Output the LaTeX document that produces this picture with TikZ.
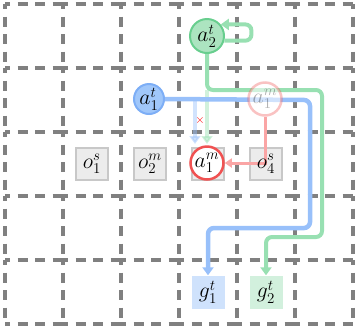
\documentclass[tikz,border=0pt]{standalone}
\usepackage{amsmath}
\usepackage{graphicx}
\usepackage{tikz}
\usetikzlibrary{arrows.meta,positioning}

\definecolor{bluefill}{RGB}{160,199,250}
\definecolor{blueedge}{RGB}{125,174,246}
\definecolor{blueline}{RGB}{152,192,250}
\definecolor{bluegoal}{RGB}{207,226,252}
\definecolor{greenfill}{RGB}{172,228,192}
\definecolor{greenedge}{RGB}{104,206,142}
\definecolor{greenline}{RGB}{152,224,178}
\definecolor{greengoal}{RGB}{210,240,221}
\definecolor{rededge}{RGB}{240,82,82}
\definecolor{redline}{RGB}{250,165,165}
\definecolor{obstfill}{RGB}{236,236,236}
\definecolor{obstedge}{RGB}{200,200,200}

\newcommand{\cellname}[1]{\scalebox{1.25}{$#1$}}

\tikzset{
  gridline/.style={ draw=gray, line width=3.5pt, dash pattern=on 10pt off 7.5pt, dash phase=5pt }
}
\tikzset{
  agentB/.style={ draw=blueedge, circle, fill=bluefill, line width=2pt, minimum size=30pt, inner sep=0pt }
}
\tikzset{
  agentG/.style={ draw=greenedge, circle, fill=greenfill, line width=2pt, minimum size=34pt, inner sep=0pt }
}
\tikzset{
  agentR/.style={ draw=rededge, circle, fill=white, line width=2.5pt, minimum size=33pt, inner sep=0pt }
}
\tikzset{
  ghostR/.style={ agentR, draw opacity=0.35, fill opacity=0.55, text opacity=0.3 }
}
\tikzset{
  obst/.style={ draw=obstedge, fill=obstfill, line width=1.5pt, minimum size=32pt, inner sep=0pt }
}
\tikzset{
  goal/.style={ minimum size=33pt, inner sep=0pt }
}
\tikzset{
  pathB/.style={ draw=blueline, line width=4.5pt, rounded corners=6pt }
}
\tikzset{
  pathG/.style={ draw=greenline, line width=4pt, rounded corners=6pt }
}

\begin{document}
\begin{tikzpicture}[x=1pt, y=-1pt, font=\LARGE,
    >={Triangle[length=8pt, width=11pt]}]
      \useasboundingbox (0,0) rectangle (355,333);

      % grid, one dashed piece per cell edge
      \foreach \x in {5,63,...,353}
        \foreach \y in {4,68,...,260}
          \draw[gridline] (\x,\y) -- ++(0,64);
      \foreach \y in {4,68,...,324}
        \foreach \x in {5,63,...,295}
          \draw[gridline] (\x,\y) -- ++(58,0);

      % obstacles and goals
      \node[obst] (o1s) at (92,164) {\cellname{o_1^s}};
      \node[obst] (o2m) at (150,164) {\cellname{o_2^m}};
      \node[obst] (o3) at (208,164) {};
      \node[obst] (o4s) at (266,164) {};
      \node[goal, fill=bluegoal] (g1t) at (208,292) {\cellname{g_1^t}};
      \node[goal, fill=greengoal] (g2t) at (266,292) {\cellname{g_2^t}};

      \coordinate (splitG) at (207,90);
      \coordinate (stopG) at (207,144);
      \coordinate (splitB) at (195,100);
      \coordinate (stopB) at (195,144);

      \node[agentG] (a2t) at (207,36) {\cellname{a_2^t}};
      \node[agentB] (a1t) at (149,99) {\cellname{a_1^t}};

      % blocked moves
      \begin{scope}[->, opacity=0.45]
        \draw[draw=greenline, line width=4pt] (splitG) -- (stopG);
        \draw[draw=blueline, line width=4.5pt] (splitB) -- (stopB);
      \end{scope}
      \node[text=red, inner sep=0pt, font=\large] (cross) at (200,120) {$\times$};

      \begin{scope}[->]
        \draw[pathG] (a2t.south) -- (splitG) -- (322,90) -- (322,237) -- (266,237) -- (g2t.north);
        \draw[pathG] (a2t.-15) -- ++(27,0) |- (a2t.40);
        \draw[pathB] (a1t.east) -- (310,100) -- (310,228) -- (208,228) -- (g1t.north);
      \end{scope}

      \node[ghostR] (a1mold) at (265,99) {\cellname{a_1^m}};
      \node[agentR] (a1m) at (207,163) {\cellname{a_1^m}};

      \draw[->, draw=redline, line width=3pt, >={Triangle[length=7pt, width=9pt]}]
        (a1mold.south) |- (a1m.east);
      \node (o4slabel) at (o4s.center) {\cellname{o_4^s}};
    \end{tikzpicture}
\end{document}
